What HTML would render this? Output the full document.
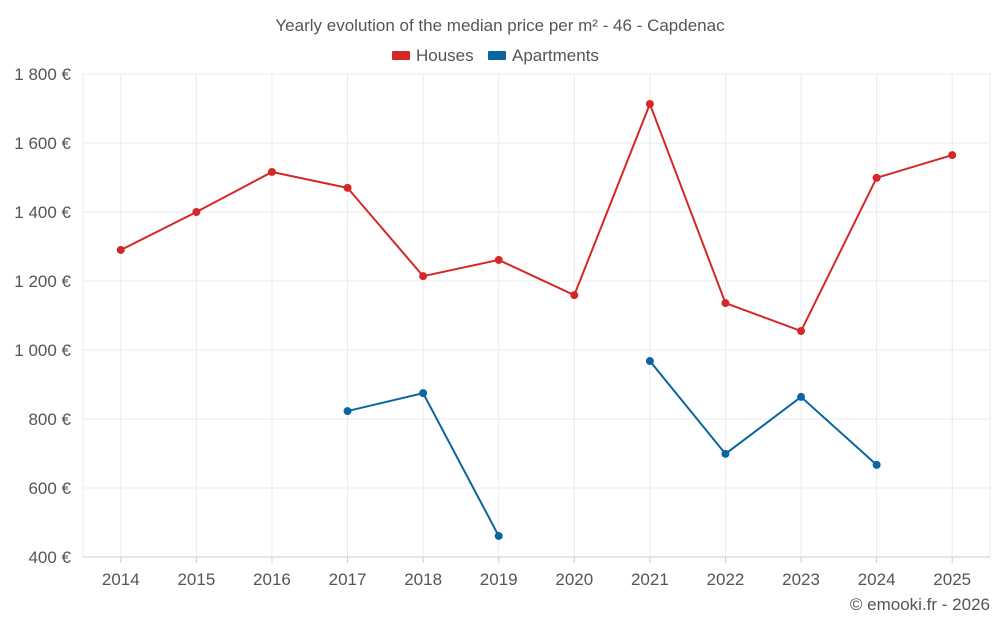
<!DOCTYPE html>
<html><head><meta charset="utf-8">
<style>
body{margin:0;background:#fff;font-family:"Liberation Sans",sans-serif;}
svg text{font-family:"Liberation Sans",sans-serif;}
</style></head>
<body>
<svg id="chart" width="1000" height="625">
<text x="500" y="31" text-anchor="middle" font-size="17" fill="#555">Yearly evolution of the median price per m² - 46 - Capdenac</text>
<g>
<g><rect x="392" y="51" width="18" height="9" rx="1" fill="#d62728"/><text x="416" y="61" font-size="17" fill="#555">Houses</text></g>
<g><rect x="488" y="51" width="18" height="9" rx="1" fill="#0a65a0"/><text x="512" y="61" font-size="17" fill="#555">Apartments</text></g>
</g>
<g id="grid"></g><g id="axes"></g><g id="series"></g>
<text x="990" y="610" text-anchor="end" font-size="17" fill="#555">© emooki.fr - 2026</text>
</svg>
<script>
const years=[2014,2015,2016,2017,2018,2019,2020,2021,2022,2023,2024,2025];
const houses=[1290,1400,1516,1470,1214,1261,1159,1713,1136,1055,1499,1565];
const apartments=[null,null,null,823,875,461,null,968,699,864,667,null];
const yTicks=[400,600,800,1000,1200,1400,1600,1800];
const yTickLabels=["400 €","600 €","800 €","1 000 €","1 200 €","1 400 €","1 600 €","1 800 €"];
const L=83,R=990,T=74,B=557,yMin=400,yMax=1800;
const NS="http://www.w3.org/2000/svg";
const bw=(R-L)/years.length;
function xs(i){return L+bw*(i+0.5);}
function ys(v){return B-(v-yMin)/(yMax-yMin)*(B-T);}
function mk(tag,attrs,parent){const e=document.createElementNS(NS,tag);for(const k in attrs)e.setAttribute(k,attrs[k]);parent.appendChild(e);return e;}
const grid=document.getElementById('grid'),axes=document.getElementById('axes'),ser=document.getElementById('series');
yTicks.forEach((v,i)=>{
 const l=mk('line',{x1:L,x2:R,y1:ys(v),y2:ys(v),stroke:i==0?'#ccc':'#ebebeb'},grid);
 
 
 const t=mk('text',{x:L-12,y:ys(v)+6,'text-anchor':'end','font-size':17,fill:'#555'},axes);
 t.textContent=yTickLabels[i];
 
 
});
[L,R].forEach(x=>{
 const l=mk('line',{x1:x,x2:x,y1:T,y2:B,stroke:'#ebebeb'},grid);
 
 
});
years.forEach((y,i)=>{
 const g=mk('line',{x1:xs(i),x2:xs(i),y1:T,y2:B,stroke:'#ebebeb'},grid);
 
 
 const tk=mk('line',{x1:xs(i),x2:xs(i),y1:B,y2:B+6,stroke:'#ccc'},axes);
 
 
 const t=mk('text',{x:xs(i),y:B+28,'text-anchor':'middle','font-size':17,fill:'#555'},axes);
 t.textContent=y;
 
 
});
function draw(data,color,name){
 let seg=[];
 const segs=[];
 data.forEach((v,i)=>{if(v==null){if(seg.length)segs.push(seg);seg=[];}else seg.push([xs(i),ys(v)]);});
 if(seg.length)segs.push(seg);
 segs.forEach(s=>{
  const p=mk('polyline',{points:s.map(q=>q.join(',')).join(' '),fill:'none',stroke:color,'stroke-width':2},ser);
  
  
 });
 data.forEach((v,i)=>{if(v==null)return;
  const c=mk('circle',{cx:xs(i),cy:ys(v),r:4,fill:color},ser);
  
  
 });
}
draw(houses,'#d62728','houses');
draw(apartments,'#0a65a0','apartments');
</script>
</body></html>
